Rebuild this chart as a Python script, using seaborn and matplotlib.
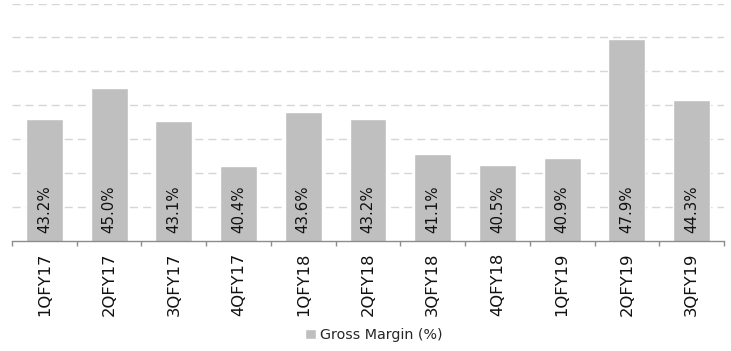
import matplotlib
matplotlib.use("Agg")
import matplotlib.pyplot as plt
import numpy as np
import pandas as pd
import seaborn as sns

quarters = ["1QFY17", "2QFY17", "3QFY17", "4QFY17", "1QFY18", "2QFY18",
            "3QFY18", "4QFY18", "1QFY19", "2QFY19", "3QFY19"]
gross_margin = [43.2, 45.0, 43.1, 40.4, 43.6, 43.2, 41.1, 40.5, 40.9, 47.9, 44.3]
series_name = "Gross Margin (%)"

df = pd.DataFrame({"quarter": quarters, "margin": gross_margin})

sns.set_theme(style="white")
plt.rcParams["font.family"] = ["DejaVu Sans"]

fig = plt.figure(figsize=(7.31, 3.51), dpi=100)
ax = fig.add_axes([12 / 731, 1 - 241 / 351, 712 / 731, 237.5 / 351])

bar_color = "#bfbfbf"
sns.barplot(data=df, x="quarter", y="margin", color=bar_color, saturation=1,
            width=0.57, label=series_name, ax=ax, zorder=2)

ymin, ymax = 36, 50
ax.set_ylim(ymin, ymax)
ax.set_xlim(-0.5, len(quarters) - 0.5)

# dashed horizontal gridlines every 2 points
for yv in np.arange(ymin + 2, ymax + 0.1, 2):
    ax.axhline(yv, color="#d6d6d6", lw=1, ls=(0, (5.8, 3.6)), zorder=1)

# value labels rotated inside the bars, near the base
for i, v in enumerate(gross_margin):
    ax.text(i, ymin + 0.5, f"{v:.1f}%", rotation=90, ha="center", va="bottom",
            fontsize=10.8, color="#111111", zorder=3)

for s in ["left", "top", "right"]:
    ax.spines[s].set_visible(False)
ax.spines["bottom"].set_color("#8c8c8c")
ax.spines["bottom"].set_linewidth(1)

ax.set_yticks([])
ax.set_xlabel("")
ax.set_ylabel("")
ax.set_xticks(range(len(quarters)))
ax.set_xticklabels(quarters, rotation=90, fontsize=11.8, color="#111111")
ax.tick_params(axis="x", which="major", length=0, pad=8.5)
ax.set_xticks(np.arange(-0.5, len(quarters), 1), minor=True)
ax.tick_params(axis="x", which="minor", length=3.5, width=1, color="#8c8c8c", bottom=True)

if ax.get_legend() is not None:
    ax.get_legend().remove()
handles, labels = ax.get_legend_handles_labels()
fig.legend(handles, labels, loc="center", bbox_to_anchor=(0.512, 0.046),
           frameon=False, fontsize=10.3, handlelength=0.75, handleheight=0.75,
           handletextpad=0.3)

fig.savefig("out.png", dpi=100)
